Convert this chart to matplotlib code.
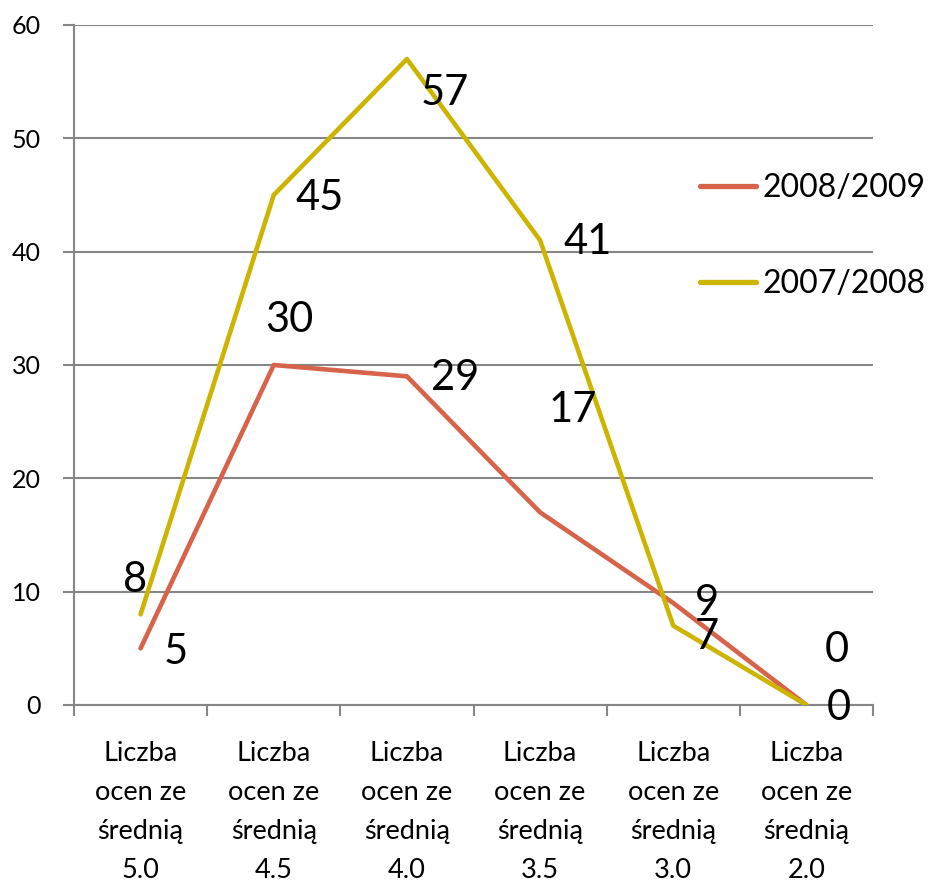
import matplotlib
matplotlib.use("Agg")
import matplotlib.pyplot as plt
import numpy as np

plt.rcParams['font.family'] = ['Lato', 'DejaVu Sans']

categories = ["Liczba\nocen ze\nśrednią\n5.0", "Liczba\nocen ze\nśrednią\n4.5",
              "Liczba\nocen ze\nśrednią\n4.0", "Liczba\nocen ze\nśrednią\n3.5",
              "Liczba\nocen ze\nśrednią\n3.0", "Liczba\nocen ze\nśrednią\n2.0"]
series_2008_2009 = [5, 30, 29, 17, 9, 0]
series_2007_2008 = [8, 45, 57, 41, 7, 0]

# label offsets (pixels) for the data labels
off_red = [(35, -4), (16, 45), (48, -2), (33, 102), (34, 0), (30, 55)]
off_yel = [(-6, 34), (46, -3), (38, -34), (48, -2), (34, -11), (32, -3)]

red = '#D6634A'
yellow = '#CDB400'
grid = '#868686'

W, H = 931, 883
fig = plt.figure(figsize=(W / 100, H / 100), dpi=100)
ax = fig.add_axes([74 / W, 178 / H, (873 - 74) / W, (705 - 25) / H])

x = np.arange(len(categories))
ax.plot(x, series_2008_2009, color=red, lw=3.3, label='2008/2009', solid_capstyle='round', zorder=3)
ax.plot(x, series_2007_2008, color=yellow, lw=3.3, label='2007/2008', solid_capstyle='round', zorder=3)

for xi, v, o in zip(x, series_2008_2009, off_red):
    ax.annotate(str(v), (xi, v), xytext=o, textcoords='offset pixels',
                ha='center', va='center', fontsize=30, zorder=4)
for xi, v, o in zip(x, series_2007_2008, off_yel):
    ax.annotate(str(v), (xi, v), xytext=o, textcoords='offset pixels',
                ha='center', va='center', fontsize=30, zorder=4)

ax.set_xlim(-0.5, len(categories) - 0.5)
ax.set_ylim(0, 60)
ax.set_yticks(range(0, 61, 10))
ax.yaxis.grid(True, color=grid, lw=1.5)
ax.set_axisbelow(True)

ax.set_xticks(x)
ax.set_xticklabels(categories, fontsize=19.5, linespacing=1.7)
ax.set_xticks(np.arange(-0.5, len(categories), 1), minor=True)
ax.tick_params(axis='x', which='major', length=0, pad=26)
ax.tick_params(axis='x', which='minor', length=8, width=1.5, color=grid, direction='out')
ax.tick_params(axis='y', length=8, width=1.5, color=grid, pad=16, labelsize=18)

for s in ['top', 'right']:
    ax.spines[s].set_visible(False)
for s in ['left', 'bottom']:
    ax.spines[s].set_color(grid)
    ax.spines[s].set_linewidth(1.5)

leg = ax.legend(loc='upper left', bbox_to_anchor=(700 / W, 1 - 173 / H), bbox_transform=fig.transFigure,
                frameon=False, fontsize=23, handlelength=1.75, handletextpad=0.2,
                labelspacing=2.08, borderpad=0, borderaxespad=0)
for line in leg.get_lines():
    line.set_linewidth(3.8)

fig.savefig('out.png', dpi=100)
